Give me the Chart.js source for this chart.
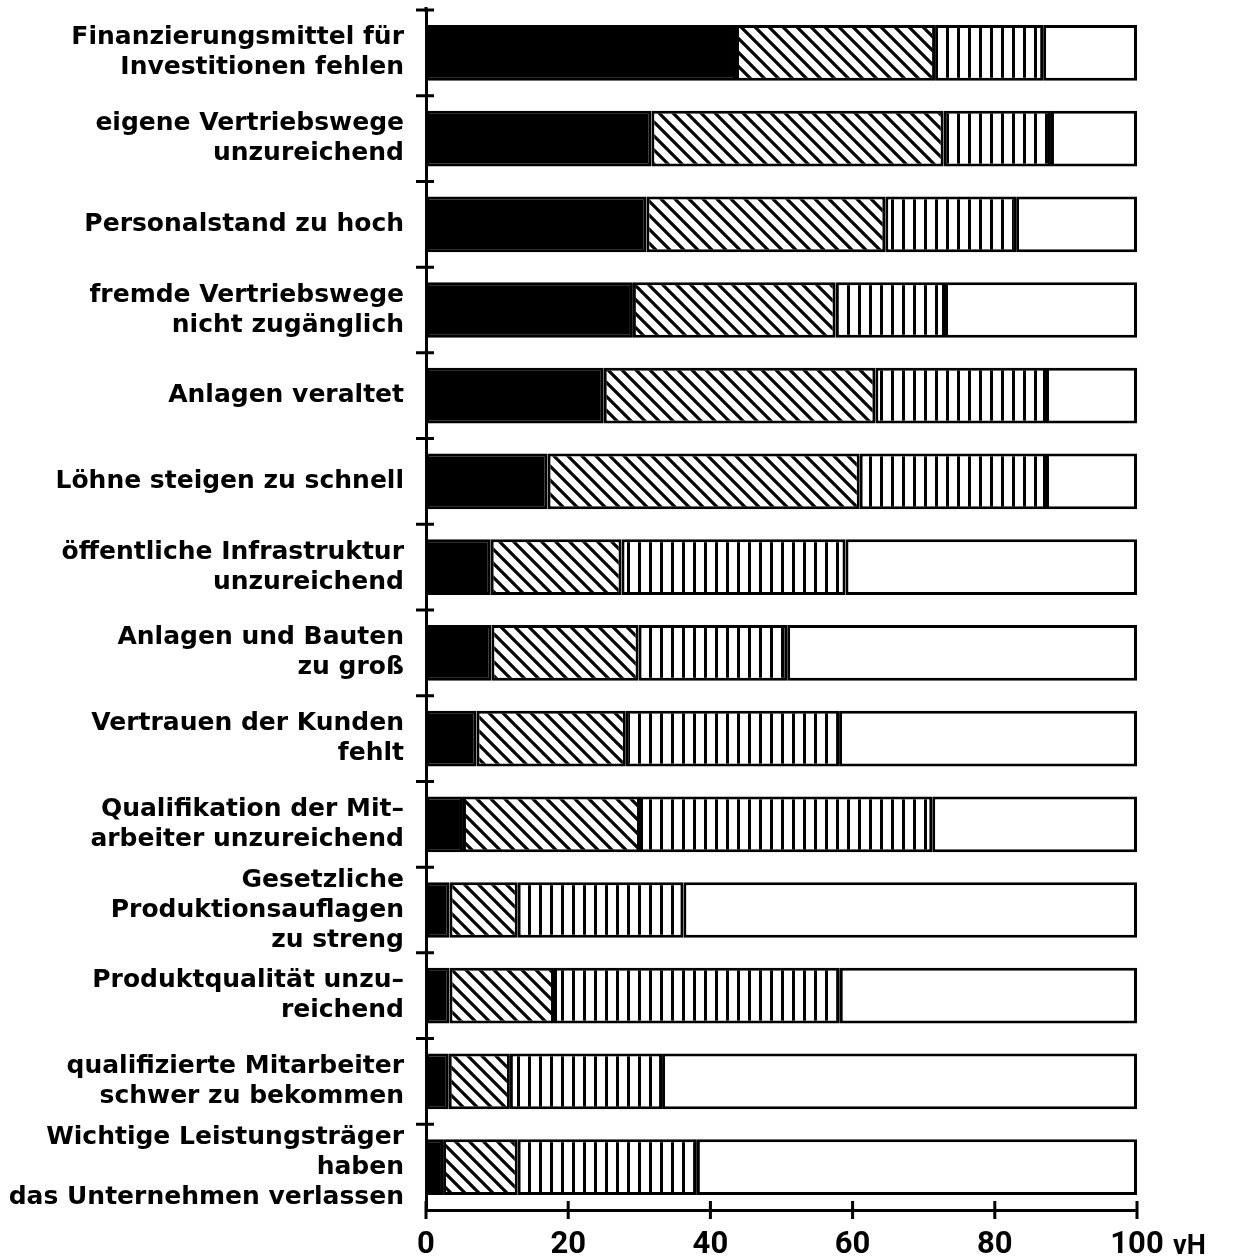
<!DOCTYPE html>
<html>
<head>
<meta charset="utf-8">
<script src="https://cdn.jsdelivr.net/npm/chart.js@4.4.0/dist/chart.umd.min.js"></script>
<style>
html,body{margin:0;padding:0;background:#fff;}
#wrap{width:1243px;height:1260px;position:relative;}
</style>
</head>
<body>
<div id="wrap"><canvas id="c" width="1243" height="1260"></canvas></div>
<script>
const categories = [
  ["Finanzierungsmittel für", "Investitionen fehlen"],
  ["eigene Vertriebswege", "unzureichend"],
  "Personalstand zu hoch",
  ["fremde Vertriebswege", "nicht zugänglich"],
  "Anlagen veraltet",
  "Löhne steigen zu schnell",
  ["öffentliche Infrastruktur", "unzureichend"],
  ["Anlagen und Bauten", "zu groß"],
  ["Vertrauen der Kunden", "fehlt"],
  ["Qualifikation der Mit–", "arbeiter unzureichend"],
  ["Gesetzliche", "Produktionsauflagen", "zu streng"],
  ["Produktqualität unzu–", "reichend"],
  ["qualifizierte Mitarbeiter", "schwer zu bekommen"],
  ["Wichtige Leistungsträger", "haben", "das Unternehmen verlassen"]
];
const seriesBlack    = [43.6, 31.7, 31.0, 29.1, 25.0, 17.1, 9.1, 9.2, 7.1, 5.2, 3.3, 3.3, 3.2, 2.4];
const seriesDiagonal = [28.0, 41.1, 33.6, 28.5, 38.2, 43.9, 18.4, 20.7, 21.0, 24.9, 9.6, 14.7, 8.6, 10.5];
const seriesVertical = [15.2, 15.1, 18.4, 15.4, 24.0, 26.2, 31.5, 20.9, 30.0, 41.1, 23.3, 40.2, 21.4, 25.2];
const seriesWhite    = [13.2, 12.1, 17.0, 27.0, 12.8, 12.8, 41.0, 49.2, 41.9, 28.8, 63.8, 41.8, 66.8, 61.9];
const xTicks = [0, 20, 40, 60, 80, 100];
const unitLabel = "vH";

function makeDiag() {
  const s = 14, c = document.createElement('canvas');
  c.width = s; c.height = s;
  const g = c.getContext('2d');
  g.fillStyle = '#fff'; g.fillRect(0, 0, s, s);
  g.strokeStyle = '#000'; g.lineWidth = 3.2;
  g.beginPath();
  g.moveTo(-s, -s); g.lineTo(2 * s, 2 * s);
  g.moveTo(-s, 0); g.lineTo(s, 2 * s);
  g.moveTo(0, -s); g.lineTo(2 * s, s);
  g.stroke();
  return g.createPattern(c, 'repeat');
}
function makeVert() {
  const c = document.createElement('canvas');
  c.width = 11; c.height = 4;
  const g = c.getContext('2d');
  g.fillStyle = '#fff'; g.fillRect(0, 0, 11, 4);
  g.fillStyle = '#000';
  g.fillRect(0, 0, 3, 4);
  return g.createPattern(c, 'repeat');
}

const FONT = "'DejaVu Sans', sans-serif";
const NUMFONT = "Roboto, 'DejaVu Sans', sans-serif";

const crossTicks = {
  id: 'crossTicks',
  afterDraw(chart) {
    const ctx = chart.ctx, x = chart.scales.x, y = chart.scales.y;
    const a = chart.chartArea;
    ctx.save();
    ctx.strokeStyle = '#000';
    ctx.lineWidth = 3;
    ctx.beginPath();
    xTicks.forEach(v => {
      const px = x.getPixelForValue(v);
      ctx.moveTo(px, a.bottom - 9); ctx.lineTo(px, a.bottom + 9);
    });
    const n = categories.length;
    for (let i = 0; i < n; i++) {
      const py = i === 0 ? a.top : (y.getPixelForValue(i - 1) + y.getPixelForValue(i)) / 2;
      ctx.moveTo(a.left - 10, py); ctx.lineTo(a.left + 8, py);
    }
    ctx.moveTo(a.left, a.top - 3); ctx.lineTo(a.left, a.top + 2);
    ctx.stroke();
    ctx.fillStyle = '#000';
    ctx.font = "bold 27px " + NUMFONT;
    ctx.textBaseline = 'alphabetic';
    ctx.textAlign = 'left';
    ctx.fillText(unitLabel, x.getPixelForValue(100) + 36, a.bottom + 44);
    ctx.restore();
  }
};

new Chart(document.getElementById('c'), {
  type: 'bar',
  data: {
    labels: categories,
    datasets: [
      { data: seriesBlack, backgroundColor: '#000' },
      { data: seriesDiagonal, backgroundColor: makeDiag() },
      { data: seriesVertical, backgroundColor: makeVert() },
      { data: seriesWhite, backgroundColor: '#fff' }
    ].map(d => Object.assign(d, {
      borderColor: '#000', borderWidth: 3, borderSkipped: false,
      barPercentage: 0.65, categoryPercentage: 1
    }))
  },
  options: {
    indexAxis: 'y',
    responsive: false,
    animation: false,
    layout: { padding: { top: 10, right: 106, left: 0, bottom: 0 } },
    plugins: { legend: { display: false }, tooltip: { enabled: false } },
    scales: {
      x: {
        stacked: true, min: 0, max: 100,
        afterBuildTicks(s) { s.ticks = xTicks.map(v => ({ value: v })); },
        afterFit(s) { s.height = 50; s.paddingLeft = 0; s.paddingRight = 0; },
        grid: { display: false, drawTicks: false },
        border: { display: true, color: '#000', width: 3 },
        ticks: { color: '#000', font: { family: NUMFONT, size: 31, weight: 'bold' }, padding: 17, maxRotation: 0 }
      },
      y: {
        stacked: true,
        afterFit(s) { s.width = 426; s.paddingTop = 0; s.paddingBottom = 0; },
        grid: { display: false, drawTicks: false },
        border: { display: true, color: '#000', width: 3 },
        ticks: { color: '#000', font: { family: FONT, size: 25, weight: 'bold', lineHeight: 1.2 }, padding: 22, autoSkip: false }
      }
    }
  },
  plugins: [crossTicks]
});
</script>
</body>
</html>
